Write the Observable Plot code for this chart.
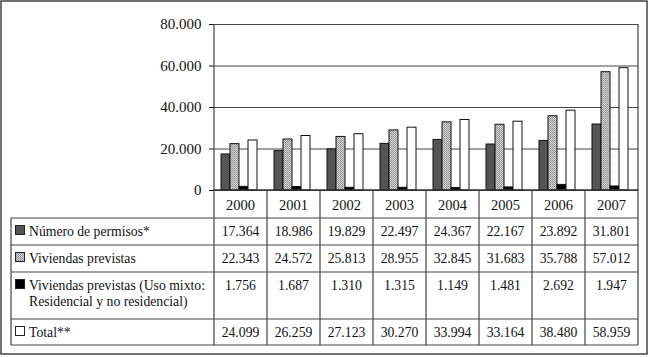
<!DOCTYPE html>
<html><head><meta charset="utf-8">
<script src="https://cdn.jsdelivr.net/npm/d3@7"></script>
<script src="https://cdn.jsdelivr.net/npm/@observablehq/plot@0.6"></script>
<style>
html,body{margin:0;padding:0;background:#fff;}
#wrap{position:relative;width:650px;height:357px;overflow:hidden;background:#fff;}
#wrap svg text{font-family:'Liberation Serif','Times New Roman',serif !important;}
</style></head><body><div id="wrap"></div>
<script>
const years = ["2000","2001","2002","2003","2004","2005","2006","2007"];
const seriesKeys = ["permisos","viviendas","mixto","total"];
const seriesLabels = [
  ["Número de permisos*"],
  ["Viviendas previstas"],
  ["Viviendas previstas (Uso mixto:", "Residencial y no residencial)"],
  ["Total**"]
];
const permisos = [17364,18986,19829,22497,24367,22167,23892,31801];
const viviendas = [22343,24572,25813,28955,32845,31683,35788,57012];
const mixto = [1756,1687,1310,1315,1149,1481,2692,1947];
const total = [24099,26259,27123,30270,33994,33164,38480,58959];
const yTicks = [0,20000,40000,60000,80000];
const seriesFills = ["#555555","url(#hatch)","#000000","#ffffff"];

const valueSeries = [permisos, viviendas, mixto, total];
const rows = years.flatMap((yr,i)=> seriesKeys.map((k,j)=>({year:yr, key:k, value:valueSeries[j][i]})));
const fmt = d3.formatLocale({decimal:",",thousands:".",grouping:[3],currency:["","€"]}).format(",d");

const font = "'Liberation Serif', 'Times New Roman', serif";
const chart = Plot.plot({
  width:650, height:357,
  marginLeft:210, marginRight:9, marginTop:24, marginBottom:167,
  style:{fontFamily:font, fontSize:"15px", color:"#111", background:"transparent", overflow:"visible"},
  fx:{domain:years, padding:0, axis:null},
  x:{domain:seriesKeys, paddingInner:0, paddingOuter:0.7, align:0.4, axis:null},
  y:{domain:[0,80000], ticks:yTicks, tickFormat:fmt, tickSize:5, tickPadding:8, label:null},
  color:{type:"ordinal", domain:seriesKeys, range:seriesFills},
  marks:[
    Plot.ruleY(yTicks, {stroke:"#444", strokeWidth:1.2}),
    Plot.barY(rows, {fx:"year", x:"key", y:"value", fill:"key", stroke:"#111", strokeWidth:1, inset:0})
  ]
});

const svg = d3.select(chart);
svg.insert("defs", ":first-child").html(
  `<pattern id="hatch" patternUnits="userSpaceOnUse" width="2" height="2">
     <rect width="2" height="2" fill="#d6d6d6"/>
     <rect x="0" y="0" width="1" height="1" fill="#8c8c8c"/>
     <rect x="1" y="1" width="1" height="1" fill="#9c9c9c"/>
   </pattern>`);

const fx = chart.scale("fx"), ys = chart.scale("y");
const bw = fx.bandwidth;
const colLeft = years.map(y=>fx.apply(y));
const xLeft = colLeft[0], xRight = colLeft[colLeft.length-1] + bw;
const yTop = ys.apply(80000), yZero = ys.apply(0);
const tableLeft = 11;
const rowLines = [218, 245, 272, 319, 345];
const g = svg.append("g").attr("font-family", font).attr("fill", "#111");
const line = (x1,y1,x2,y2,w=1.2,c="#444") => g.append("line").attr("x1",x1).attr("y1",y1).attr("x2",x2).attr("y2",y2).attr("stroke",c).attr("stroke-width",w);

line(xRight, yTop, xRight, rowLines[4]);
line(xLeft, yTop, xLeft, rowLines[4]);
colLeft.slice(1).forEach(x=>line(x, yZero, x, rowLines[4]));
line(xLeft, yZero, xRight, yZero, 1.4, "#333");
rowLines.forEach(y=>line(tableLeft, y, xRight, y));
line(tableLeft, rowLines[0], tableLeft, rowLines[4]);

years.forEach((yr,i)=>g.append("text").attr("x", colLeft[i]+bw/2).attr("y", 210).attr("text-anchor","middle").attr("font-size",14.5).text(yr));

seriesKeys.forEach((k,j)=>{
  const base = rowLines[j] + 18;
  g.append("rect").attr("x",15.5).attr("y",base-10.5).attr("width",9).attr("height",9)
    .attr("fill", seriesFills[j]).attr("stroke","#222").attr("stroke-width",1);
  seriesLabels[j].forEach((t,li)=>g.append("text").attr("x",29).attr("y",base+li*16).attr("text-anchor","start").attr("font-size",13.7).text(t));
  valueSeries[j].forEach((v,i)=>g.append("text").attr("x",colLeft[i]+bw/2).attr("y",base).attr("text-anchor","middle").attr("font-size",13.7).text(fmt(v)));
});

g.append("rect").attr("x",1).attr("y",1).attr("width",646).attr("height",353).attr("fill","none").attr("stroke","#444").attr("stroke-width",1.5);

document.getElementById("wrap").appendChild(chart);
</script></body></html>
